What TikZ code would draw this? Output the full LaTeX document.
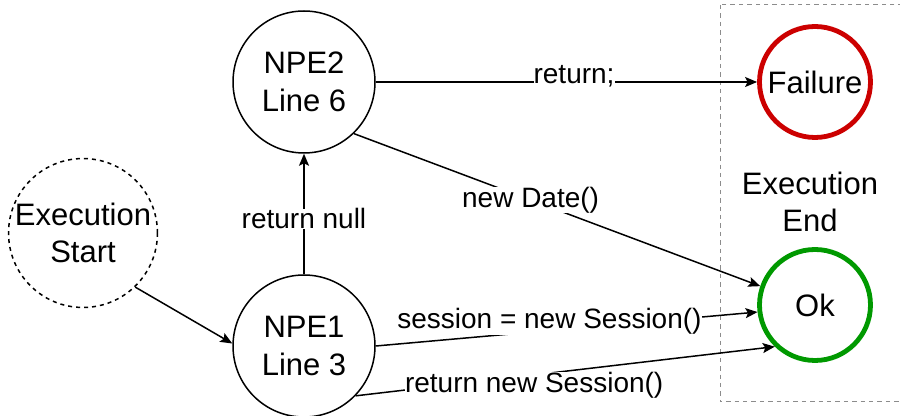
\documentclass[tikz,border=0pt]{standalone}
\usepackage{fontspec}
\setmainfont{Liberation Sans}
\usetikzlibrary{arrows.meta}
\definecolor{failred}{HTML}{CC0000}
\definecolor{okgreen}{HTML}{009900}
\definecolor{boxgray}{HTML}{8C8C8C}
\tikzset{
  statenode/.style={circle, draw=black, line width=0.75pt, minimum size=71pt, inner sep=0pt, align=center, font=\fontsize{15.5pt}{18.75pt}\selectfont},
  startnode/.style={statenode, dash pattern=on 2pt off 2pt},
  endnode/.style={circle, line width=2.4pt, minimum size=55.5pt, inner sep=0pt, font=\fontsize{15.5pt}{18.75pt}\selectfont},
  conn/.style={draw=black, line width=0.75pt, -{Stealth[length=6pt, width=5pt, inset=1.2pt]}},
  lbl/.style={fill=white, inner sep=0pt, font=\fontsize{14pt}{16.8pt}\selectfont},
  endtext/.style={align=center, font=\fontsize{15.5pt}{18.75pt}\selectfont}
}
\begin{document}
\begin{tikzpicture}[x=0.5pt, y=-0.5pt]
\useasboundingbox (0,0) rectangle (900,416);
\clip (0,0) rectangle (900,416);
\fill[white] (0,0) rectangle (900,416);
% dashed end region
\draw[boxgray, line width=0.5pt, dash pattern=on 2.2pt off 2pt] (720,5) rectangle (910,402);
% nodes
\node[startnode] (start) at (83,233) {Execution\\Start};
\node[statenode] (npe1) at (304,346) {NPE1\\Line 3};
\node[statenode] (npe2) at (304,82) {NPE2\\Line 6};
\node[endnode, draw=failred] (fail) at (815,82) {Failure};
\node[endnode, draw=okgreen] (ok) at (815,305) {Ok};
\node[endtext] (endlbl) at (810,202) {Execution\\End};
% connectors
\draw[conn] (start.-46) -- (npe1.178);
\draw[conn] (npe1.north) -- node[lbl, pos=0.46] (lnull) {return null} (npe2.south);
\draw[conn] (npe2.east) -- node[lbl, pos=0.52, yshift=3pt] (lret) {return;} (fail.west);
\draw[conn] (npe2.-46) -- node[lbl, pos=0.435] (ldate) {new Date()} (ok.161);
\draw[conn] (npe1.east) -- node[lbl, pos=0.455, yshift=4.5pt] (lsess) {session = new Session()} (ok.187);
\draw[conn] (npe1.-44) -- node[lbl, pos=0.426, yshift=-5pt] (lretsess) {return new Session()} (ok.226);
\end{tikzpicture}
\end{document}
